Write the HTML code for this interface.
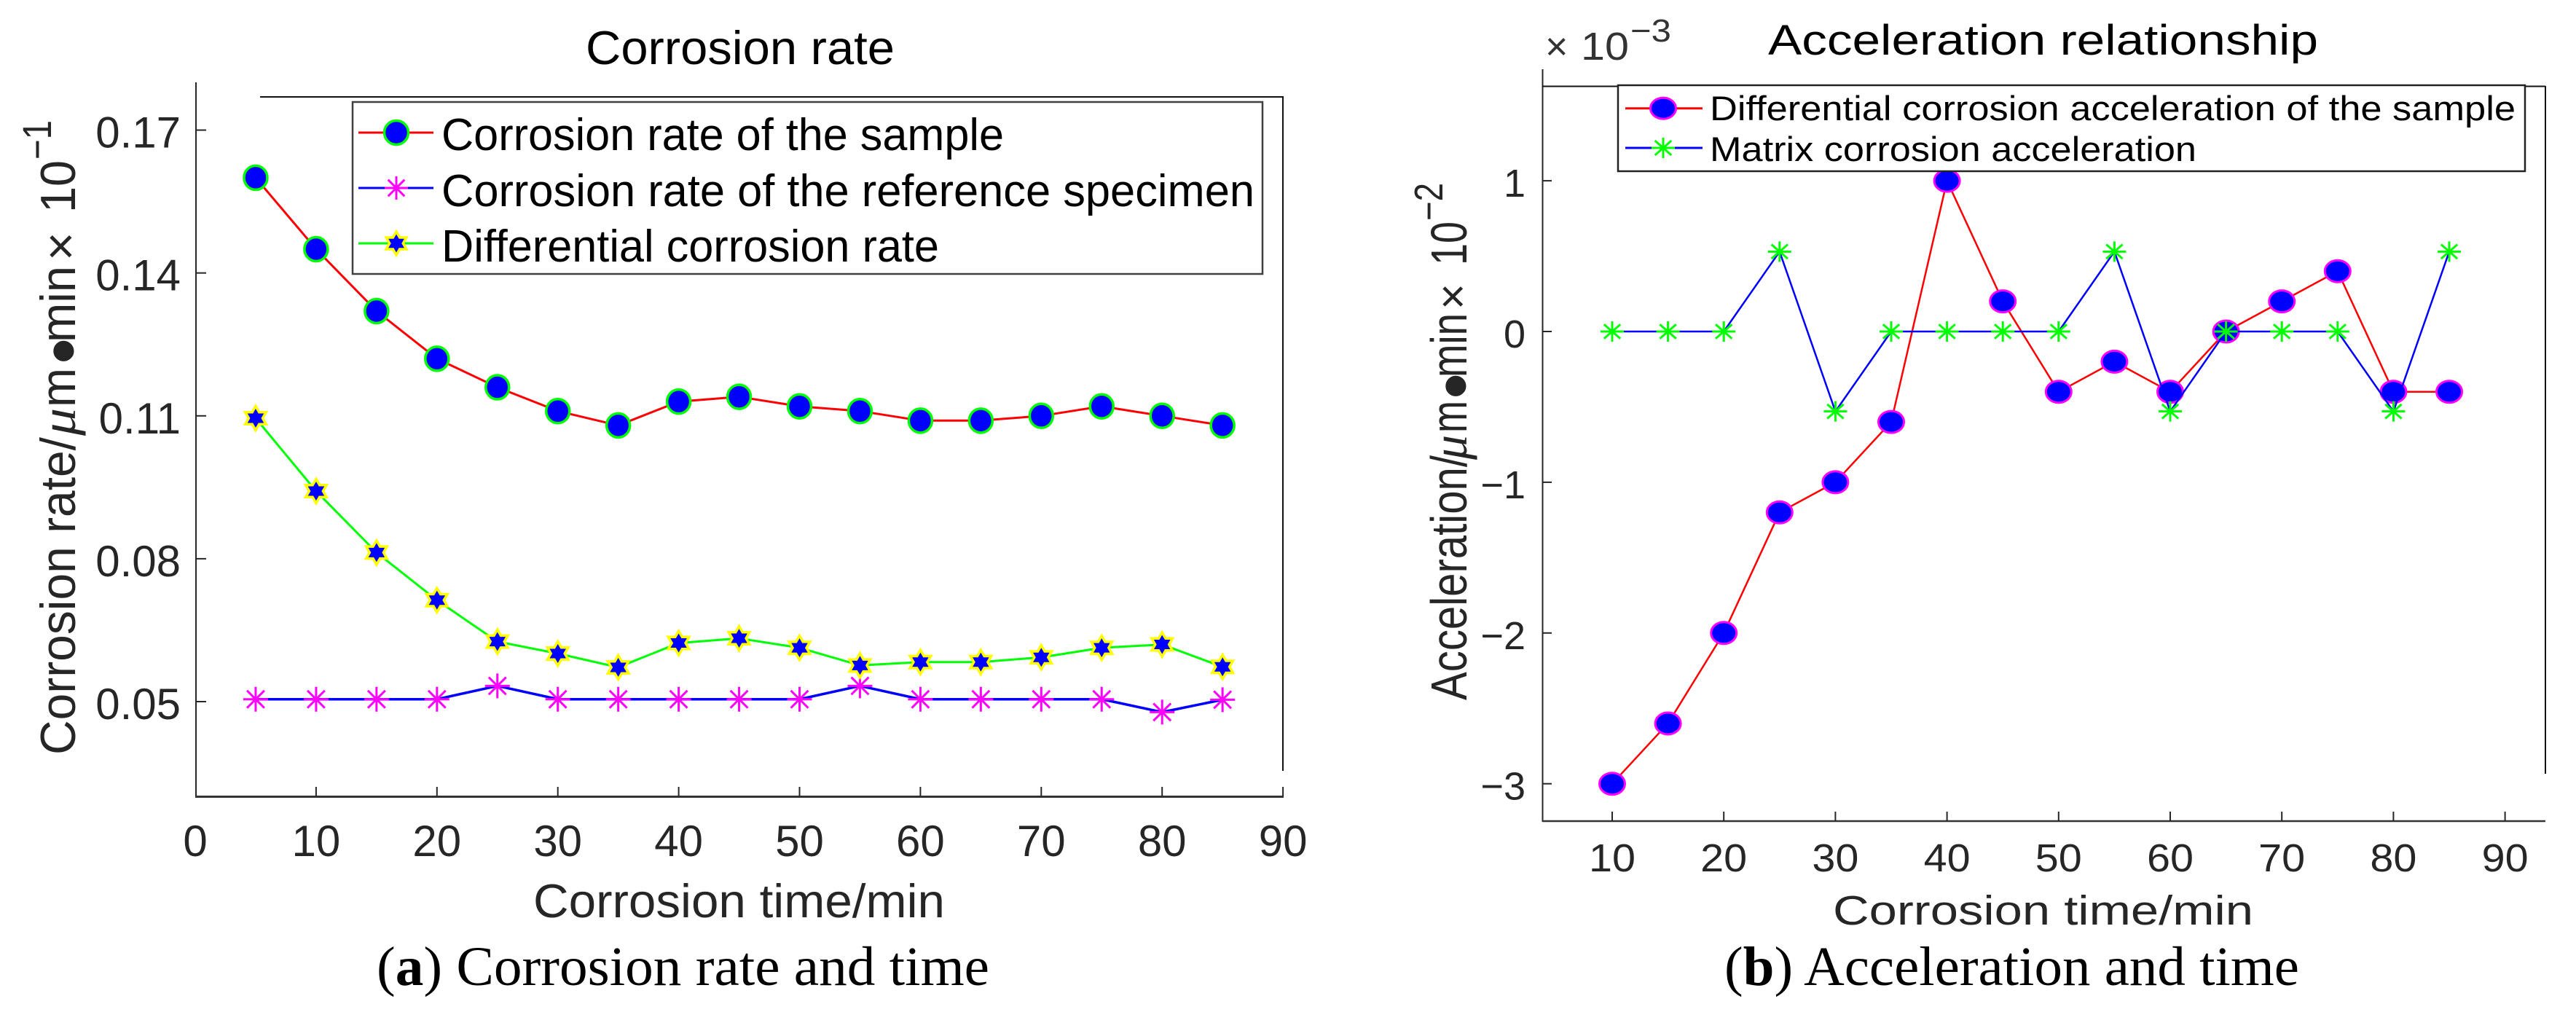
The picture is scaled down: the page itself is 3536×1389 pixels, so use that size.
<!DOCTYPE html>
<html lang="en">
<head>
<meta charset="utf-8">
<title>Corrosion rate and acceleration charts</title>
<style>
html,body{margin:0;padding:0;background:#fff;}
svg{display:block;}
text{font-family:"Liberation Sans",sans-serif;}
.serif{font-family:"Liberation Serif",serif;}
</style>
</head>
<body>
<svg id="figure" xmlns="http://www.w3.org/2000/svg" width="3536" height="1389" viewBox="0 0 3536 1389">
  <rect x="0" y="0" width="3536" height="1389" fill="#ffffff"/>

  <!-- Panel A static -->
  <g id="panel-a">
    <text x="804" y="88" font-size="65" fill="#000" textLength="424" lengthAdjust="spacingAndGlyphs">Corrosion rate</text>
    <line x1="269" y1="113" x2="269" y2="1094" stroke="#262626" stroke-width="2"/>
    <line x1="268" y1="1093.5" x2="1762" y2="1093.5" stroke="#333" stroke-width="3"/>
    <line x1="357" y1="133" x2="1762" y2="133" stroke="#111" stroke-width="2"/>
    <line x1="1761" y1="133" x2="1761" y2="1058" stroke="#111" stroke-width="2"/>

    <text x="732" y="1259" font-size="65" fill="#262626" textLength="565" lengthAdjust="spacingAndGlyphs">Corrosion time/min</text>

    <g fill="#262626">
      <text transform="translate(103,1036) rotate(-90)" font-size="68" textLength="436" lengthAdjust="spacingAndGlyphs">Corrosion rate/</text>
      <text class="serif" transform="translate(103,598) rotate(-90)" font-size="68" font-style="italic" textLength="38" lengthAdjust="spacingAndGlyphs">μ</text>
      <text transform="translate(103,559) rotate(-90)" font-size="68" textLength="54" lengthAdjust="spacingAndGlyphs">m</text>
      <text transform="translate(122,500) rotate(-90)" font-size="104">•</text>
      <text transform="translate(103,470) rotate(-90)" font-size="68" textLength="105" lengthAdjust="spacingAndGlyphs">min</text>
      <text transform="translate(106,358) rotate(-90)" font-size="68">×</text>
      <text transform="translate(103,292) rotate(-90)" font-size="68" textLength="72" lengthAdjust="spacingAndGlyphs">10</text>
      <text transform="translate(70,219) rotate(-90)" font-size="56" textLength="54" lengthAdjust="spacingAndGlyphs">−1</text>
    </g>

    <text class="serif" x="517" y="1352" font-size="76" fill="#000" textLength="841" lengthAdjust="spacingAndGlyphs">(<tspan font-weight="bold">a</tspan>) Corrosion rate and time</text>
  </g>

  <!-- Panel B static -->
  <g id="panel-b">
    <text x="2427" y="75" font-size="58" fill="#000" textLength="755" lengthAdjust="spacingAndGlyphs">Acceleration relationship</text>
    <line x1="2117.5" y1="95" x2="2117.5" y2="1128" stroke="#262626" stroke-width="2"/>
    <line x1="2117" y1="1127" x2="3494" y2="1127" stroke="#333" stroke-width="2.5"/>
    <line x1="2117" y1="118.5" x2="3494" y2="118.5" stroke="#111" stroke-width="2"/>
    <line x1="3494" y1="118" x2="3494" y2="1062" stroke="#111" stroke-width="2"/>

    <g fill="#333">
      <text x="2121" y="82" font-size="54">×</text>
      <text x="2170" y="82" font-size="54" textLength="66" lengthAdjust="spacingAndGlyphs">10</text>
      <text x="2238" y="57" font-size="44" textLength="56" lengthAdjust="spacingAndGlyphs">−3</text>
    </g>

    <text x="2516" y="1269" font-size="57" fill="#262626" textLength="577" lengthAdjust="spacingAndGlyphs">Corrosion time/min</text>

    <g fill="#262626">
      <text transform="translate(2013,961) rotate(-90)" font-size="70" textLength="336" lengthAdjust="spacingAndGlyphs">Acceleration/</text>
      <text class="serif" transform="translate(2013,631) rotate(-90)" font-size="68" font-style="italic" textLength="34" lengthAdjust="spacingAndGlyphs">μ</text>
      <text transform="translate(2013,594) rotate(-90)" font-size="70" textLength="44" lengthAdjust="spacingAndGlyphs">m</text>
      <text transform="translate(2033,548) rotate(-90)" font-size="104">•</text>
      <text transform="translate(2013,518) rotate(-90)" font-size="70" textLength="88" lengthAdjust="spacingAndGlyphs">min</text>
      <text transform="translate(2015,425) rotate(-90)" font-size="62" textLength="36" lengthAdjust="spacingAndGlyphs">×</text>
      <text transform="translate(2013,364) rotate(-90)" font-size="70" textLength="60" lengthAdjust="spacingAndGlyphs">10</text>
      <text transform="translate(1980,303) rotate(-90)" font-size="55" textLength="52" lengthAdjust="spacingAndGlyphs">−2</text>
    </g>

    <text class="serif" x="2367" y="1352" font-size="76" fill="#000" textLength="789" lengthAdjust="spacingAndGlyphs">(<tspan font-weight="bold">b</tspan>) Acceleration and time</text>
  </g>

  <g id="a-ticks"></g>
  <g id="b-ticks"></g>
  <g id="a-series"></g>
  <g id="b-series"></g>

  <!-- Legend A -->
  <g>
    <rect x="484" y="140" width="1249" height="236" fill="#fff" stroke="#404040" stroke-width="2.5"/>
    <g>
      <line x1="492" y1="182" x2="595" y2="182" stroke="#ff0000" stroke-width="3"/>
      <ellipse cx="544" cy="182" rx="16.5" ry="16.5" fill="#0000ff" stroke="#00ff00" stroke-width="3.5"/>
      <text x="606" y="206" font-size="62" fill="#000" textLength="772" lengthAdjust="spacingAndGlyphs">Corrosion rate of the sample</text>
    </g>
    <g>
      <line x1="492" y1="258" x2="595" y2="258" stroke="#0000ff" stroke-width="3"/>
      <path d="M544 242V274M528 258H560M532.7 246.7L555.3 269.3M555.3 246.7L532.7 269.3" stroke="#ff00ff" stroke-width="3" fill="none"/>
      <text x="606" y="283" font-size="62" fill="#000" textLength="1116" lengthAdjust="spacingAndGlyphs">Corrosion rate of the reference specimen</text>
    </g>
    <g>
      <line x1="492" y1="334" x2="595" y2="334" stroke="#00ff00" stroke-width="3"/>
      <polygon points="544,318 548.6,326 557.9,326 553.3,334 557.9,342 548.6,342 544,350 539.4,342 530.1,342 534.7,334 530.1,326 539.4,326" fill="#0000ff" stroke="#ffff00" stroke-width="3.5"/>
      <text x="606" y="359" font-size="62" fill="#000" textLength="683" lengthAdjust="spacingAndGlyphs">Differential corrosion rate</text>
    </g>
  </g>

  <!-- Legend B -->
  <g>
    <rect x="2221" y="117" width="1245" height="118" fill="#fff" stroke="#222" stroke-width="2.5"/>
    <g>
      <line x1="2231" y1="148.7" x2="2337" y2="148.7" stroke="#ff0000" stroke-width="3"/>
      <ellipse cx="2283" cy="148.7" rx="17.5" ry="14.5" fill="#0000ff" stroke="#ff00ff" stroke-width="3"/>
      <text x="2347" y="165" font-size="47" fill="#000" textLength="1106" lengthAdjust="spacingAndGlyphs">Differential corrosion acceleration of the sample</text>
    </g>
    <g>
      <line x1="2231" y1="203" x2="2337" y2="203" stroke="#0000ff" stroke-width="3"/>
      <path d="M2283 189V217M2267 203H2299M2271.7 193L2294.3 213M2294.3 193L2271.7 213" stroke="#00ff00" stroke-width="3" fill="none"/>
      <text x="2347" y="221" font-size="47" fill="#000" textLength="668" lengthAdjust="spacingAndGlyphs">Matrix corrosion acceleration</text>
    </g>
  </g>
</svg>

<script>
// Chart A data
const timeA = [5,10,15,20,25,30,35,40,45,50,55,60,65,70,75,80,85];
const sampleRate = [0.160,0.145,0.132,0.122,0.116,0.111,0.108,0.113,0.114,0.112,0.111,0.109,0.109,0.110,0.112,0.110,0.108];
const referenceRate = [0.0505,0.0505,0.0505,0.0505,0.0533,0.0505,0.0505,0.0505,0.0505,0.0505,0.0533,0.0505,0.0505,0.0505,0.0505,0.0478,0.0504];
const differentialRate = [0.1095,0.0942,0.0813,0.0713,0.0626,0.0601,0.0572,0.0623,0.0633,0.0613,0.0576,0.0583,0.0583,0.0593,0.0613,0.0620,0.0573];
const xTicksA = [0,10,20,30,40,50,60,70,80,90];
const yTicksA = [0.05,0.08,0.11,0.14,0.17];
const yTickLabelsA = ["0.05","0.08","0.11","0.14","0.17"];

// Chart B data (values in units of 10^-3)
const timeB = [10,15,20,25,30,35,40,45,50,55,60,65,70,75,80,85];
const differentialAccel = [-3,-2.6,-2,-1.2,-1,-0.6,1,0.2,-0.4,-0.2,-0.4,0,0.2,0.4,-0.4,-0.4];
const matrixAccel = [0,0,0,0.53,-0.53,0,0,0,0,0.53,-0.53,0,0,0,-0.53,0.53];
const xTicksB = [10,20,30,40,50,60,70,80,90];
const yTicksB = [-3,-2,-1,0,1];
const yTickLabelsB = ["\u22123","\u22122","\u22121","0","1"];

const NS = 'http://www.w3.org/2000/svg';
function xA(v){ return 268 + 16.59 * v; }
function yA(v){ return 963 - (v - 0.05) * 6537; }
function xB(v){ return 2213 + (v - 10) * 15.32; }
function yB(v){ return 455 - v * 206.9; }

function mk(parent, tag, attrs){
  const el = document.createElementNS(NS, tag);
  for (const k in attrs) el.setAttribute(k, attrs[k]);
  parent.appendChild(el);
  return el;
}
function hexagramPoints(cx, cy, R){
  const r = R / Math.sqrt(3);
  const pts = [];
  for (let i = 0; i < 12; i++){
    const a = Math.PI / 2 + i * Math.PI / 6;
    const d = i % 2 === 0 ? R : r;
    pts.push((cx + d * Math.cos(a)).toFixed(1) + ',' + (cy - d * Math.sin(a)).toFixed(1));
  }
  return pts.join(' ');
}
function asteriskPath(cx, cy, w, h){
  const dx = w * 0.35, dy = h * 0.35;
  return 'M' + cx + ' ' + (cy - h/2) + 'V' + (cy + h/2) +
    'M' + (cx - w/2) + ' ' + cy + 'H' + (cx + w/2) +
    'M' + (cx - dx) + ' ' + (cy - dy) + 'L' + (cx + dx) + ' ' + (cy + dy) +
    'M' + (cx + dx) + ' ' + (cy - dy) + 'L' + (cx - dx) + ' ' + (cy + dy);
}
function linePoints(xs, ys, fx, fy){
  return xs.map(function(x, i){ return fx(x).toFixed(1) + ',' + fy(ys[i]).toFixed(1); }).join(' ');
}

// Ticks chart A
const aTicks = document.getElementById('a-ticks');
xTicksA.forEach(function(v){
  if (v > 0){
    const t = mk(aTicks, 'line', {x1:xA(v), x2:xA(v), y1:1080, y2:1093, stroke:'#262626', 'stroke-width':2});
    
    
  }
  const l = mk(aTicks, 'text', {x:xA(v), y:1175, 'font-size':60, fill:'#262626', 'text-anchor':'middle'});
  l.textContent = String(v);
  
  
});
yTicksA.forEach(function(v, i){
  const t = mk(aTicks, 'line', {x1:269, x2:283, y1:yA(v), y2:yA(v), stroke:'#262626', 'stroke-width':2});
  
  
  const l = mk(aTicks, 'text', {x:248, y:yA(v) + 24, 'font-size':60, fill:'#262626', 'text-anchor':'end'});
  l.textContent = yTickLabelsA[i];
  
  
});

// Ticks chart B
const bTicks = document.getElementById('b-ticks');
xTicksB.forEach(function(v){
  const t = mk(bTicks, 'line', {x1:xB(v), x2:xB(v), y1:1114, y2:1127, stroke:'#262626', 'stroke-width':2});
  
  
  const l = mk(bTicks, 'text', {x:xB(v), y:1196, 'font-size':54, fill:'#262626', 'text-anchor':'middle', textLength:64, lengthAdjust:'spacingAndGlyphs'});
  l.textContent = String(v);
  
  
});
yTicksB.forEach(function(v, i){
  const t = mk(bTicks, 'line', {x1:2118, x2:2130, y1:yB(v), y2:yB(v), stroke:'#262626', 'stroke-width':2});
  
  
  const l = mk(bTicks, 'text', {x:2094, y:yB(v) + 22, 'font-size':54, fill:'#262626', 'text-anchor':'end'});
  l.textContent = yTickLabelsB[i];
  
  
});

// Series chart A
const aSeries = document.getElementById('a-series');
const lineSample = mk(aSeries, 'polyline', {points:linePoints(timeA, sampleRate, xA, yA), fill:'none', stroke:'#ff0000', 'stroke-width':3});


const lineRef = mk(aSeries, 'polyline', {points:linePoints(timeA, referenceRate, xA, yA), fill:'none', stroke:'#0000ff', 'stroke-width':3.5});


const lineDiff = mk(aSeries, 'polyline', {points:linePoints(timeA, differentialRate, xA, yA), fill:'none', stroke:'#00ff00', 'stroke-width':3});



timeA.forEach(function(x, i){
  const c = mk(aSeries, 'ellipse', {cx:xA(x), cy:yA(sampleRate[i]), rx:16, ry:16.5, fill:'#0000ff', stroke:'#00ff00', 'stroke-width':3.5});
  
  
  const a = mk(aSeries, 'path', {d:asteriskPath(xA(x), yA(referenceRate[i]), 34, 34), fill:'none', stroke:'#ff00ff', 'stroke-width':3});
  
  
  const s = mk(aSeries, 'polygon', {points:hexagramPoints(xA(x), yA(differentialRate[i]), 16.5), fill:'#0000ff', stroke:'#ffff00', 'stroke-width':3.5});
  
  
});

// Series chart B
const bSeries = document.getElementById('b-series');
const lineAccel = mk(bSeries, 'polyline', {points:linePoints(timeB, differentialAccel, xB, yB), fill:'none', stroke:'#ff0000', 'stroke-width':2.5});


timeB.forEach(function(x, i){
  const c = mk(bSeries, 'ellipse', {cx:xB(x), cy:yB(differentialAccel[i]), rx:17.5, ry:15, fill:'#0000ff', stroke:'#ff00ff', 'stroke-width':3});
  
  
});
const lineMatrix = mk(bSeries, 'polyline', {points:linePoints(timeB, matrixAccel, xB, yB), fill:'none', stroke:'#0000ff', 'stroke-width':2.5});


timeB.forEach(function(x, i){
  const a = mk(bSeries, 'path', {d:asteriskPath(xB(x), yB(matrixAccel[i]), 32, 28), fill:'none', stroke:'#00ff00', 'stroke-width':3});
  
  
});
</script>
</body>
</html>
